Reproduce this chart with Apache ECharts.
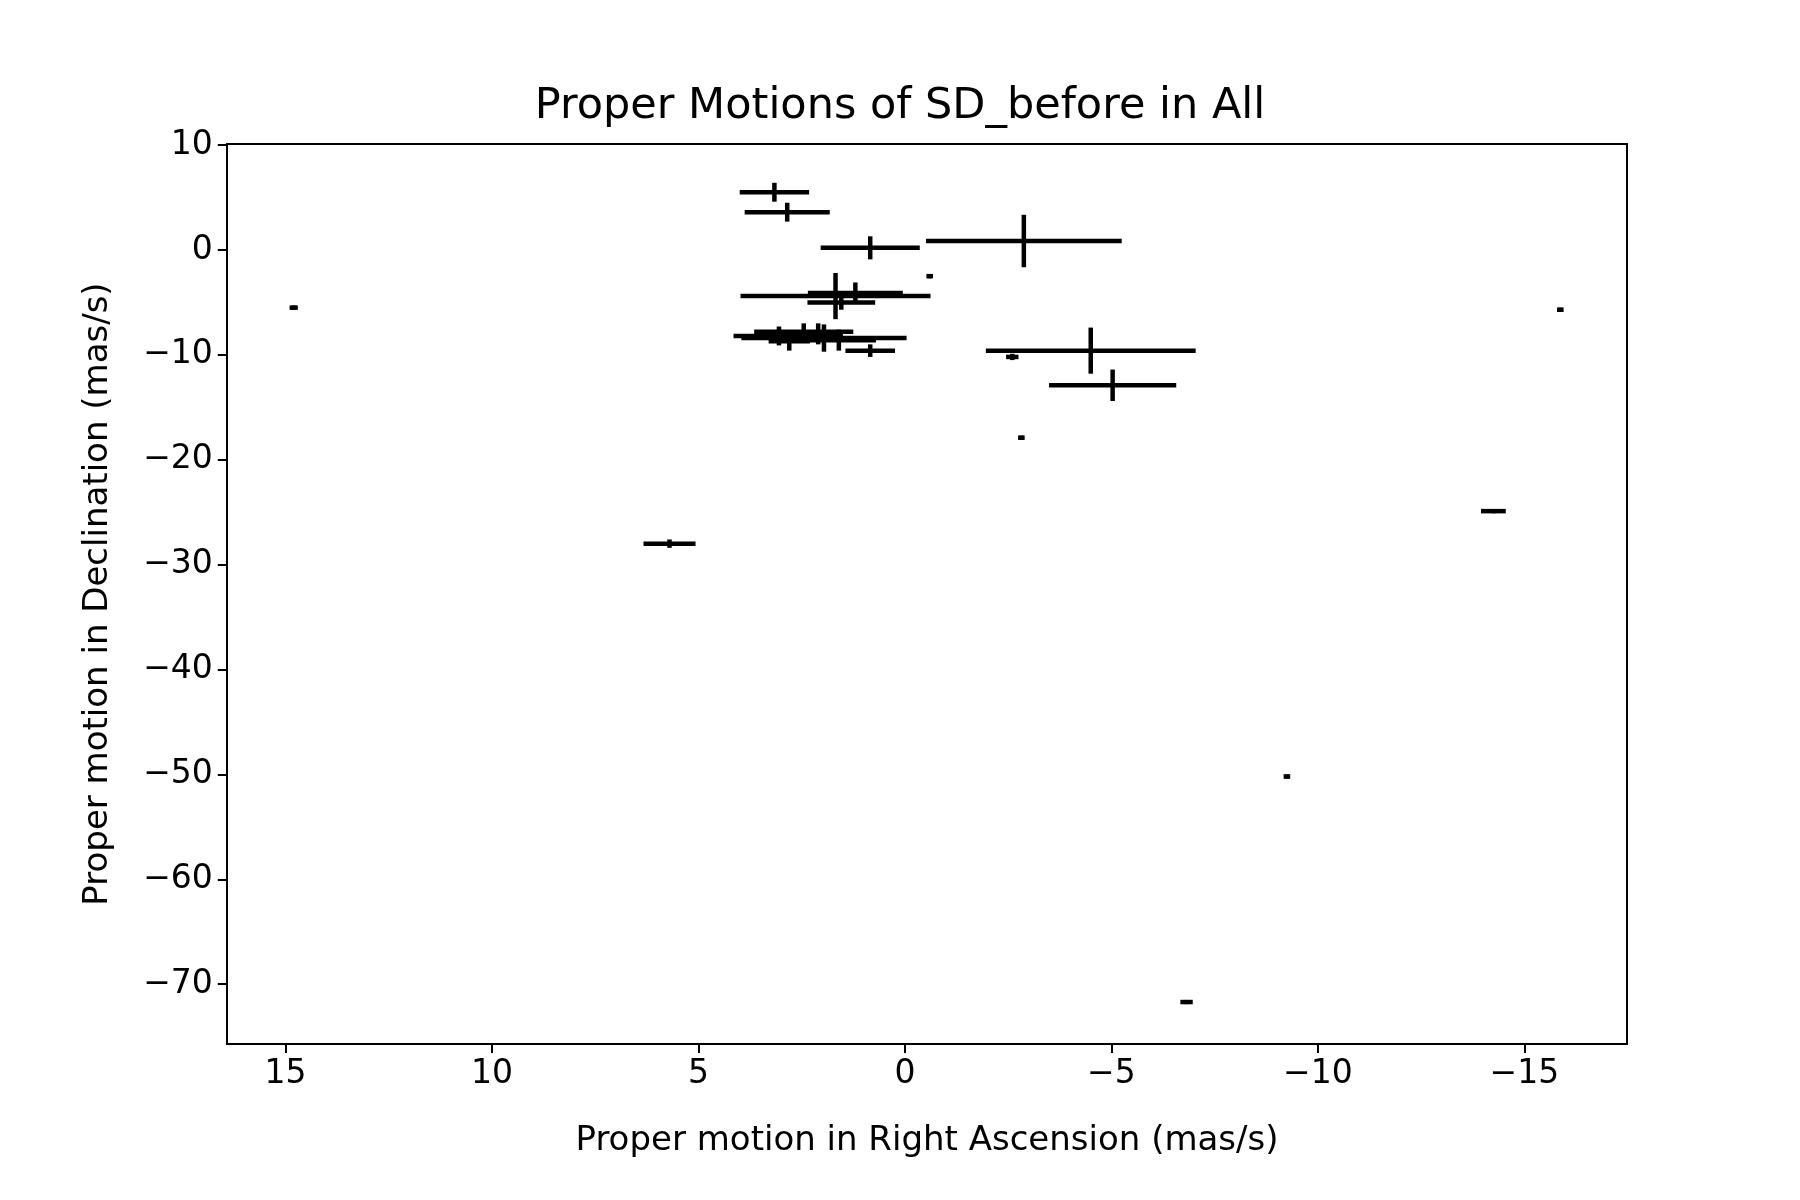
<!DOCTYPE html>
<html>
<head>
<meta charset="utf-8">
<script src="https://cdn.jsdelivr.net/npm/echarts@6/dist/echarts.min.js"></script>
<style>html,body{margin:0;background:#fff}#chart{width:1800px;height:1200px}</style>
</head>
<body>
<div id="chart"></div>
<script>
// proper motion in RA, Dec and their errors (mas/s)
const pmRA   = [14.8, 3.16, 2.85, 0.84, -2.88, -0.6, 1.68, 1.2, 1.54, 1.96, 3.05, 2.45, 2.1, 0.84, 1.6, 2.8, -4.5, -2.6, -5.03, -2.82, 5.7, -14.25, -15.87, -9.25, -6.82];
const pmDec  = [-5.5, 5.5, 3.6, 0.2, 0.85, -2.5, -4.4, -4.1, -5.0, -8.4, -8.2, -7.8, -8.0, -9.6, -8.6, -8.7, -9.6, -10.2, -12.9, -17.9, -28.0, -24.9, -5.7, -50.2, -71.7];
const errRA  = [0.1, 0.84, 1.03, 1.2, 2.37, 0.08, 2.3, 1.15, 0.82, 2.0, 1.1, 1.2, 0.6, 0.6, 0.9, 0.5, 2.54, 0.15, 1.54, 0.08, 0.63, 0.3, 0.08, 0.08, 0.15];
const errDec = [0.2, 0.9, 0.9, 1.1, 2.5, 0.2, 2.2, 1.0, 0.7, 1.3, 0.9, 0.8, 1.0, 0.6, 1.0, 0.9, 2.2, 0.3, 1.5, 0.2, 0.4, 0.2, 0.2, 0.2, 0.2];
const xTicks = [15, 10, 5, 0, -5, -10, -15];
const yTicks = [10, 0, -10, -20, -30, -40, -50, -60, -70];

const data = pmRA.map((x, i) => [x, pmDec[i], errRA[i], errDec[i]]);
const font = 'DejaVu Sans';
const line = { color: '#000', width: 2 };
const fmt = v => String(v).replace('-', '\u2212');

const chart = echarts.init(document.getElementById('chart'));
chart.setOption({
    animation: false,
    title: {
        text: 'Proper Motions of SD_before in All',
        left: 'center', top: 80,
        textStyle: { fontFamily: font, fontSize: 43, fontWeight: 'normal', color: '#000' },
    },
    grid: { left: '12.6%', right: '9.6%', top: '12%', bottom: '13%' },
    xAxis: [{
        type: 'value', inverse: true, min: -17.49, max: 16.42,
        name: 'Proper motion in Right Ascension (mas/s)', nameLocation: 'middle', nameGap: 80,
        nameTextStyle: { fontFamily: font, fontSize: 34, color: '#000' },
        axisLine: { onZero: false, lineStyle: line },
        axisTick: { length: 9, lineStyle: line, customValues: xTicks },
        axisLabel: { fontFamily: font, fontSize: 33, color: '#000', margin: 14, customValues: xTicks, formatter: fmt },
        splitLine: { show: false },
    }, {
        type: 'value', position: 'top', inverse: true, min: -17.49, max: 16.42,
        axisLine: { onZero: false, lineStyle: line },
        axisTick: { show: false }, axisLabel: { show: false }, splitLine: { show: false },
    }],
    yAxis: [{
        type: 'value', min: -75.7, max: 10.1,
        name: 'Proper motion in Declination (mas/s)', nameLocation: 'middle', nameGap: 112,
        nameTextStyle: { fontFamily: font, fontSize: 34, color: '#000' },
        axisLine: { onZero: false, lineStyle: line },
        axisTick: { length: 9, lineStyle: line, customValues: yTicks },
        axisLabel: { fontFamily: font, fontSize: 33, color: '#000', margin: 14, customValues: yTicks, formatter: fmt },
        splitLine: { show: false },
    }, {
        type: 'value', position: 'right', min: -75.7, max: 10.1,
        axisLine: { show: true, onZero: false, lineStyle: line },
        axisTick: { show: false }, axisLabel: { show: false }, splitLine: { show: false },
    }],
    series: [{
        type: 'custom',
        data: data,
        renderItem: (params, api) => {
            const x = api.value(0), y = api.value(1), ex = api.value(2), ey = api.value(3);
            const l = api.coord([x + ex, y]), r = api.coord([x - ex, y]);
            const t = api.coord([x, y + ey]), b = api.coord([x, y - ey]);
            const style = { stroke: '#000', lineWidth: 4.5 };
            return {
                type: 'group',
                children: [
                    { type: 'line', shape: { x1: l[0], y1: l[1], x2: r[0], y2: r[1] }, style },
                    { type: 'line', shape: { x1: t[0], y1: t[1], x2: b[0], y2: b[1] }, style },
                ],
            };
        },
    }],
});
</script>
</body>
</html>
